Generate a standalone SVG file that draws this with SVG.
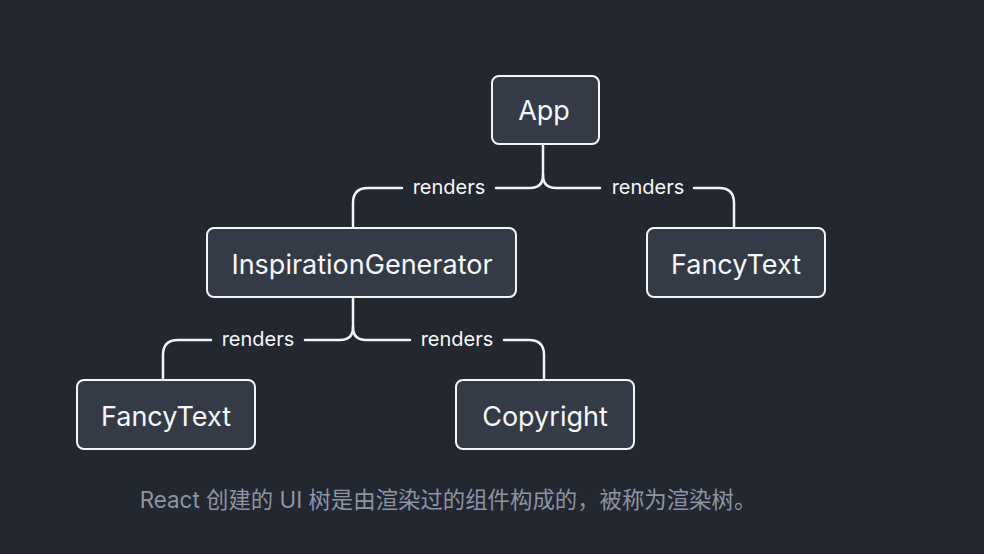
<svg xmlns="http://www.w3.org/2000/svg" width="984" height="554" viewBox="0 0 984 554">
<style>
.box{fill:#343a46;stroke:#f4f5f7;stroke-width:2}
.nt{font-family:Inter,"Noto Sans",sans-serif;font-size:27px;fill:#f6f7f9;text-anchor:middle}
.lbl{font-family:Inter,"Noto Sans",sans-serif;font-size:20px;fill:#f6f7f9;text-anchor:middle}
.cn{fill:none;stroke:#f4f5f7;stroke-width:2.5;stroke-linecap:round}
.cap{font-family:Inter,"Noto Sans","Noto Sans CJK SC",sans-serif;font-size:22.4px;fill:#8c94a6;text-anchor:middle}
</style>
<rect width="984" height="554" fill="#23272f"/>
<g id="connectors">
<path class="cn" d="M543 145 V175 Q543 188 530 188 H496"/>
<path class="cn" d="M543 175 Q543 188 556 188 H600"/>
<path class="cn" d="M402 188 H368 Q353 188 353 203 V227"/>
<path class="cn" d="M694 188 H719 Q734 188 734 203 V227"/>
<text class="lbl" x="449" y="194">renders</text>
<text class="lbl" x="648" y="194">renders</text>
<path class="cn" d="M353 297 V327 Q353 340 340 340 H305"/>
<path class="cn" d="M353 327 Q353 340 366 340 H410"/>
<path class="cn" d="M211 340 H178 Q163 340 163 355 V380"/>
<path class="cn" d="M504 340 H529 Q544 340 544 355 V380"/>
<text class="lbl" x="258" y="346">renders</text>
<text class="lbl" x="457" y="346">renders</text>
</g>
<g id="app"><rect class="box" x="492" y="76" width="107" height="68" rx="7"/><text class="nt" x="544" y="120">App</text></g>
<g id="inspiration"><rect class="box" x="207" y="228" width="309" height="69" rx="7"/><text class="nt" x="362" y="274">InspirationGenerator</text></g>
<g id="fancytext1"><rect class="box" x="647" y="228" width="178" height="69" rx="7"/><text class="nt" x="736" y="274">FancyText</text></g>
<g id="fancytext2"><rect class="box" x="77" y="380" width="178" height="69" rx="7"/><text class="nt" x="166" y="426">FancyText</text></g>
<g id="copyright"><rect class="box" x="456" y="380" width="178" height="69" rx="7"/><text class="nt" x="545" y="426">Copyright</text></g>
<text class="cap" x="448" y="508">React 创建的 UI 树是由渲染过的组件构成的，被称为渲染树。</text>
</svg>
